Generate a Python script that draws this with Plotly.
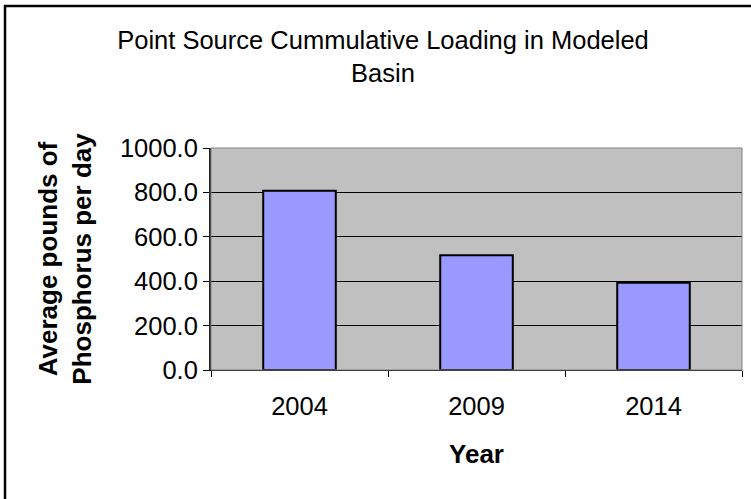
import plotly.graph_objects as go

years = ["2004", "2009", "2014"]
loading = [807, 517, 393]
y_ticks = [0, 200, 400, 600, 800, 1000]

W, H = 751, 499
L, R, T, B = 211, 9, 148, 129
pw = W - L - R
ph = H - T - B

font = "Liberation Sans, Arial, sans-serif"

fig = go.Figure(go.Bar(
    x=years, y=loading,
    marker=dict(color="#9999FF", line=dict(color="black", width=2)),
    width=0.41,
))

def px_x(p):
    return (p - L) / pw

def px_y(p):
    return (H - B - p) / ph

fig.update_layout(
    width=W, height=H,
    margin=dict(l=L, r=R, t=T, b=B, autoexpand=False),
    paper_bgcolor="white",
    plot_bgcolor="#C0C0C0",
    showlegend=False,
    title=dict(
        text="Point Source Cummulative Loading in Modeled<br>Basin",
        x=383 / W, xanchor="center", xref="container",
        y=1 - 49 / H, yanchor="top", yref="container",
        font=dict(family=font, size=25.5, color="black"),
    ),
    xaxis=dict(
        type="category",
        showline=True, linecolor="black", linewidth=1,
        ticks="outside", ticklen=6, tickcolor="black", tickson="boundaries",
        ticklabelstandoff=13,
        tickfont=dict(family=font, size=25.5, color="black"),
        title=dict(text="<b>Year</b>", font=dict(family=font, size=26, color="black"), standoff=26),
        showgrid=False,
    ),
    yaxis=dict(
        range=[0, 1000],
        tickvals=y_ticks, tickformat=".1f",
        showline=True, linecolor="#202020", linewidth=2,
        ticks="outside", ticklen=6, tickcolor="black",
        tickfont=dict(family=font, size=25.5, color="black"),
        showgrid=True, gridcolor="black", gridwidth=1,
        zeroline=False,
        title=dict(text="<b>Average pounds of<br>Phosphorus per day</b>",
                   font=dict(family=font, size=26, color="black"), standoff=21),
    ),
    shapes=[
        dict(type="rect", xref="paper", yref="paper", x0=0, x1=1, y0=0, y1=1,
             line=dict(color="#808080", width=1), fillcolor="rgba(0,0,0,0)", layer="above"),
        dict(type="rect", xref="paper", yref="paper",
             x0=px_x(5), x1=px_x(770), y0=px_y(520), y1=px_y(6),
             line=dict(color="black", width=2.5), fillcolor="rgba(0,0,0,0)", layer="above"),
    ],
)

fig.write_html(
    "out.html",
    config={"displayModeBar": False},
    post_script="document.body.style.margin='0';document.body.style.overflow='hidden';",
)
